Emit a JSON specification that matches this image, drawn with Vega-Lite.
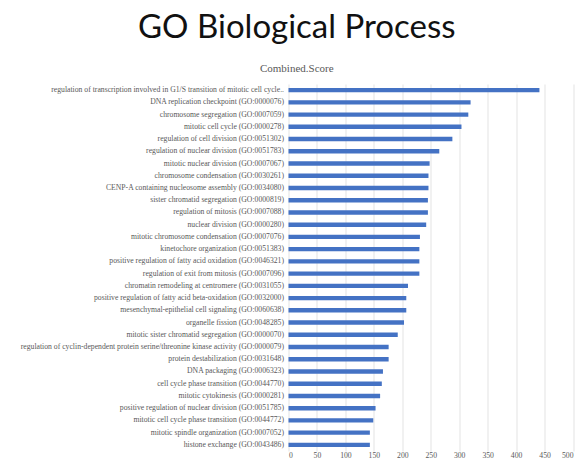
{
  "$schema": "https://vega.github.io/schema/vega-lite/v6.json",
  "autosize": "none",
  "width": 284.5,
  "height": 367,
  "padding": {"left": 288.5, "top": 84, "right": 12, "bottom": 13},
  "background": "white",
  "title": {
    "text": "GO Biological Process",
    "subtitle": "Combined.Score",
    "anchor": "middle",
    "frame": "group",
    "dx": -134,
    "font": "Lato",
    "fontSize": 33,
    "fontWeight": "normal",
    "color": "#111111",
    "subtitleFont": "Liberation Serif",
    "subtitleFontSize": 11,
    "subtitleColor": "#595959",
    "subtitlePadding": 18,
    "offset": 10
  },
  "data": {
    "values": [
      {"term": "regulation of transcription involved in G1/S transition of mitotic cell cycle..", "score": 441},
      {"term": "DNA replication checkpoint (GO:0000076)", "score": 320},
      {"term": "chromosome segregation (GO:0007059)", "score": 316},
      {"term": "mitotic cell cycle (GO:0000278)", "score": 304},
      {"term": "regulation of cell division (GO:0051302)", "score": 288},
      {"term": "regulation of nuclear division (GO:0051783)", "score": 265},
      {"term": "mitotic nuclear division (GO:0007067)", "score": 248},
      {"term": "chromosome condensation (GO:0030261)", "score": 246},
      {"term": "CENP-A containing nucleosome assembly (GO:0034080)", "score": 246},
      {"term": "sister chromatid segregation (GO:0000819)", "score": 245},
      {"term": "regulation of mitosis (GO:0007088)", "score": 245},
      {"term": "nuclear division (GO:0000280)", "score": 242},
      {"term": "mitotic chromosome condensation (GO:0007076)", "score": 231},
      {"term": "kinetochore organization (GO:0051383)", "score": 230},
      {"term": "positive regulation of fatty acid oxidation (GO:0046321)", "score": 230},
      {"term": "regulation of exit from mitosis (GO:0007096)", "score": 230},
      {"term": "chromatin remodeling at centromere (GO:0031055)", "score": 210},
      {"term": "positive regulation of fatty acid beta-oxidation (GO:0032000)", "score": 207},
      {"term": "mesenchymal-epithelial cell signaling (GO:0060638)", "score": 207},
      {"term": "organelle fission (GO:0048285)", "score": 203},
      {"term": "mitotic sister chromatid segregation (GO:0000070)", "score": 192},
      {"term": "regulation of cyclin-dependent protein serine/threonine kinase activity (GO:0000079)", "score": 176},
      {"term": "protein destabilization (GO:0031648)", "score": 176},
      {"term": "DNA packaging (GO:0006323)", "score": 166},
      {"term": "cell cycle phase transition (GO:0044770)", "score": 164},
      {"term": "mitotic cytokinesis (GO:0000281)", "score": 161},
      {"term": "positive regulation of nuclear division (GO:0051785)", "score": 153},
      {"term": "mitotic cell cycle phase transition (GO:0044772)", "score": 149},
      {"term": "mitotic spindle organization (GO:0007052)", "score": 143},
      {"term": "histone exchange (GO:0043486)", "score": 143}
    ]
  },
  "mark": {"type": "bar", "color": "#4472C4"},
  "encoding": {
    "y": {
      "field": "term",
      "type": "nominal",
      "sort": null,
      "scale": {"paddingInner": 0.64, "paddingOuter": 0.32},
      "axis": {
        "title": null,
        "ticks": false,
        "domain": false,
        "labelFont": "Liberation Serif",
        "labelFontSize": 7.7,
        "labelColor": "#595959",
        "labelPadding": 5,
        "labelLimit": 400
      }
    },
    "x": {
      "field": "score",
      "type": "quantitative",
      "scale": {"domain": [0, 500], "nice": false},
      "axis": {
        "title": null,
        "values": [0, 50, 100, 150, 200, 250, 300, 350, 400, 450, 500],
        "ticks": false,
        "domain": false,
        "grid": true,
        "gridColor": "#e3e3e3",
        "gridWidth": 1,
        "labelFont": "Liberation Serif",
        "labelFontSize": 7.7,
        "labelColor": "#595959",
        "labelPadding": 0
      }
    }
  },
  "config": {"view": {"stroke": null}}
}
